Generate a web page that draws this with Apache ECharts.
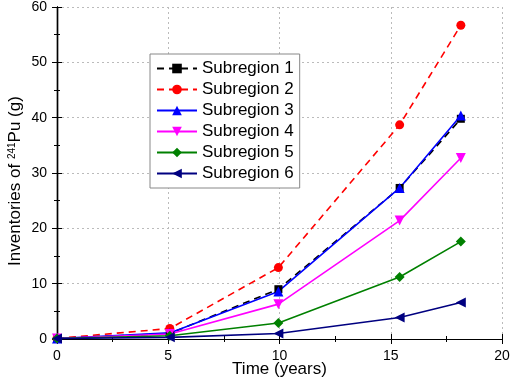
<!DOCTYPE html>
<html>
<head>
<meta charset="utf-8">
<script src="https://cdn.jsdelivr.net/npm/echarts@6/dist/echarts.min.js"></script>
<style>
  html, body { margin: 0; padding: 0; background: #fff; }
  #chart { width: 512px; height: 380px; }
</style>
</head>
<body>
<div id="chart"></div>
<script>
// time points (years)
const years = [0, 5.07, 9.95, 15.4, 18.15]
const sub1 = [0.1, 1.0, 9.0, 27.3, 39.8]
const sub2 = [0.1, 1.9, 12.9, 38.7, 56.7]
const sub3 = [0.1, 1.1, 8.6, 27.3, 40.4]
const sub4 = [0.1, 0.9, 6.3, 21.4, 32.7]
const sub5 = [0.1, 0.6, 2.9, 11.2, 17.6]
const sub6 = [0.1, 0.3, 1.0, 3.9, 6.6]

const font = 'Liberation Sans, Arial, sans-serif'

function pairs (ys) {
  return years.map((x, i) => [x, ys[i]])
}

function mk (name, ys, color, symbol, size, dashed, rotate) {
  return {
    name: name,
    type: 'line',
    data: pairs(ys),
    symbol: symbol,
    symbolSize: size,
    symbolRotate: rotate || 0,
    itemStyle: { color: color },
    lineStyle: { color: color, width: 1.6, type: dashed ? [7, 5] : 'solid' }
  }
}

const axisLine = { show: true, lineStyle: { color: '#000', width: 1.2 } }
const tick = len => ({ show: true, inside: true, length: len, lineStyle: { color: '#000', width: 1 } })

// plain axis used only for its ticks (frame and minor ticks)
function tickAxis (pos, max, step, len) {
  return {
    type: 'value', position: pos, offset: 0,
    min: 0, max: max, interval: step,
    axisLine: axisLine,
    axisTick: tick(len),
    axisLabel: { show: false },
    splitLine: { show: false }
  }
}

let chart = echarts.init(document.getElementById('chart'))
let option = {
  animation: false,
  textStyle: { fontFamily: font },
  grid: { left: 57, right: 10, top: 7, bottom: 41, containLabel: false, outerBoundsMode: 'none' },
  legend: {
    left: 150,
    top: 54,
    orient: 'vertical',
    itemGap: 4,
    itemWidth: 40,
    itemHeight: 12,
    padding: [6, 6, 6, 6],
    backgroundColor: '#fff',
    borderColor: '#888',
    borderWidth: 1,
    textStyle: { fontSize: 17, color: '#000', fontFamily: font }
  },
  xAxis: [
    {
      type: 'value', offset: 0,
      min: 0, max: 20, interval: 5,
      name: 'Time (years)',
      nameLocation: 'middle',
      nameGap: 22,
      nameMoveOverlap: false,
      nameTextStyle: { fontSize: 17, color: '#000', lineHeight: 17, verticalAlign: 'top' },
      axisLine: axisLine,
      axisTick: tick(5),
      axisLabel: { fontSize: 14, color: '#000', margin: 10 },
      splitLine: { show: true, lineStyle: { color: '#bbb', type: [2, 3] } }
    },
    tickAxis('bottom', 20, 2.5, 3),
    tickAxis('top', 20, 5, 5),
    tickAxis('top', 20, 2.5, 3)
  ],
  yAxis: [
    {
      type: 'value', offset: 0,
      min: 0, max: 60, interval: 10,
      name: '{a|Inventories of }{s|241}{a|Pu (g)}',
      nameLocation: 'middle',
      nameGap: 33,
      nameMoveOverlap: false,
      nameRotate: 90,
      nameTextStyle: {
        padding: [0, 0, 0, -16],
        rich: {
          a: { fontSize: 17, color: '#000', fontFamily: font },
          s: { fontSize: 10, color: '#000', fontFamily: font, verticalAlign: 'top', lineHeight: 14, padding: [0, 0, 6, 0] }
        }
      },
      axisLine: axisLine,
      axisTick: tick(5),
      axisLabel: { fontSize: 14, color: '#000', margin: 10 },
      splitLine: { show: true, lineStyle: { color: '#bbb', type: [2, 3] } }
    },
    tickAxis('left', 60, 5, 3),
    tickAxis('right', 60, 10, 5),
    tickAxis('right', 60, 5, 3)
  ],
  series: [
    mk('Subregion 1', sub1, '#000000', 'rect', 8, true),
    mk('Subregion 2', sub2, '#ff0000', 'circle', 9, true),
    mk('Subregion 3', sub3, '#0000ff', 'triangle', 10, false),
    mk('Subregion 4', sub4, '#ff00ff', 'triangle', 10, false, 180),
    mk('Subregion 5', sub5, '#008000', 'diamond', 10, false),
    mk('Subregion 6', sub6, '#000080', 'triangle', 10, false, 90)
  ]
}
chart.setOption(option, true)
</script>
</body>
</html>
